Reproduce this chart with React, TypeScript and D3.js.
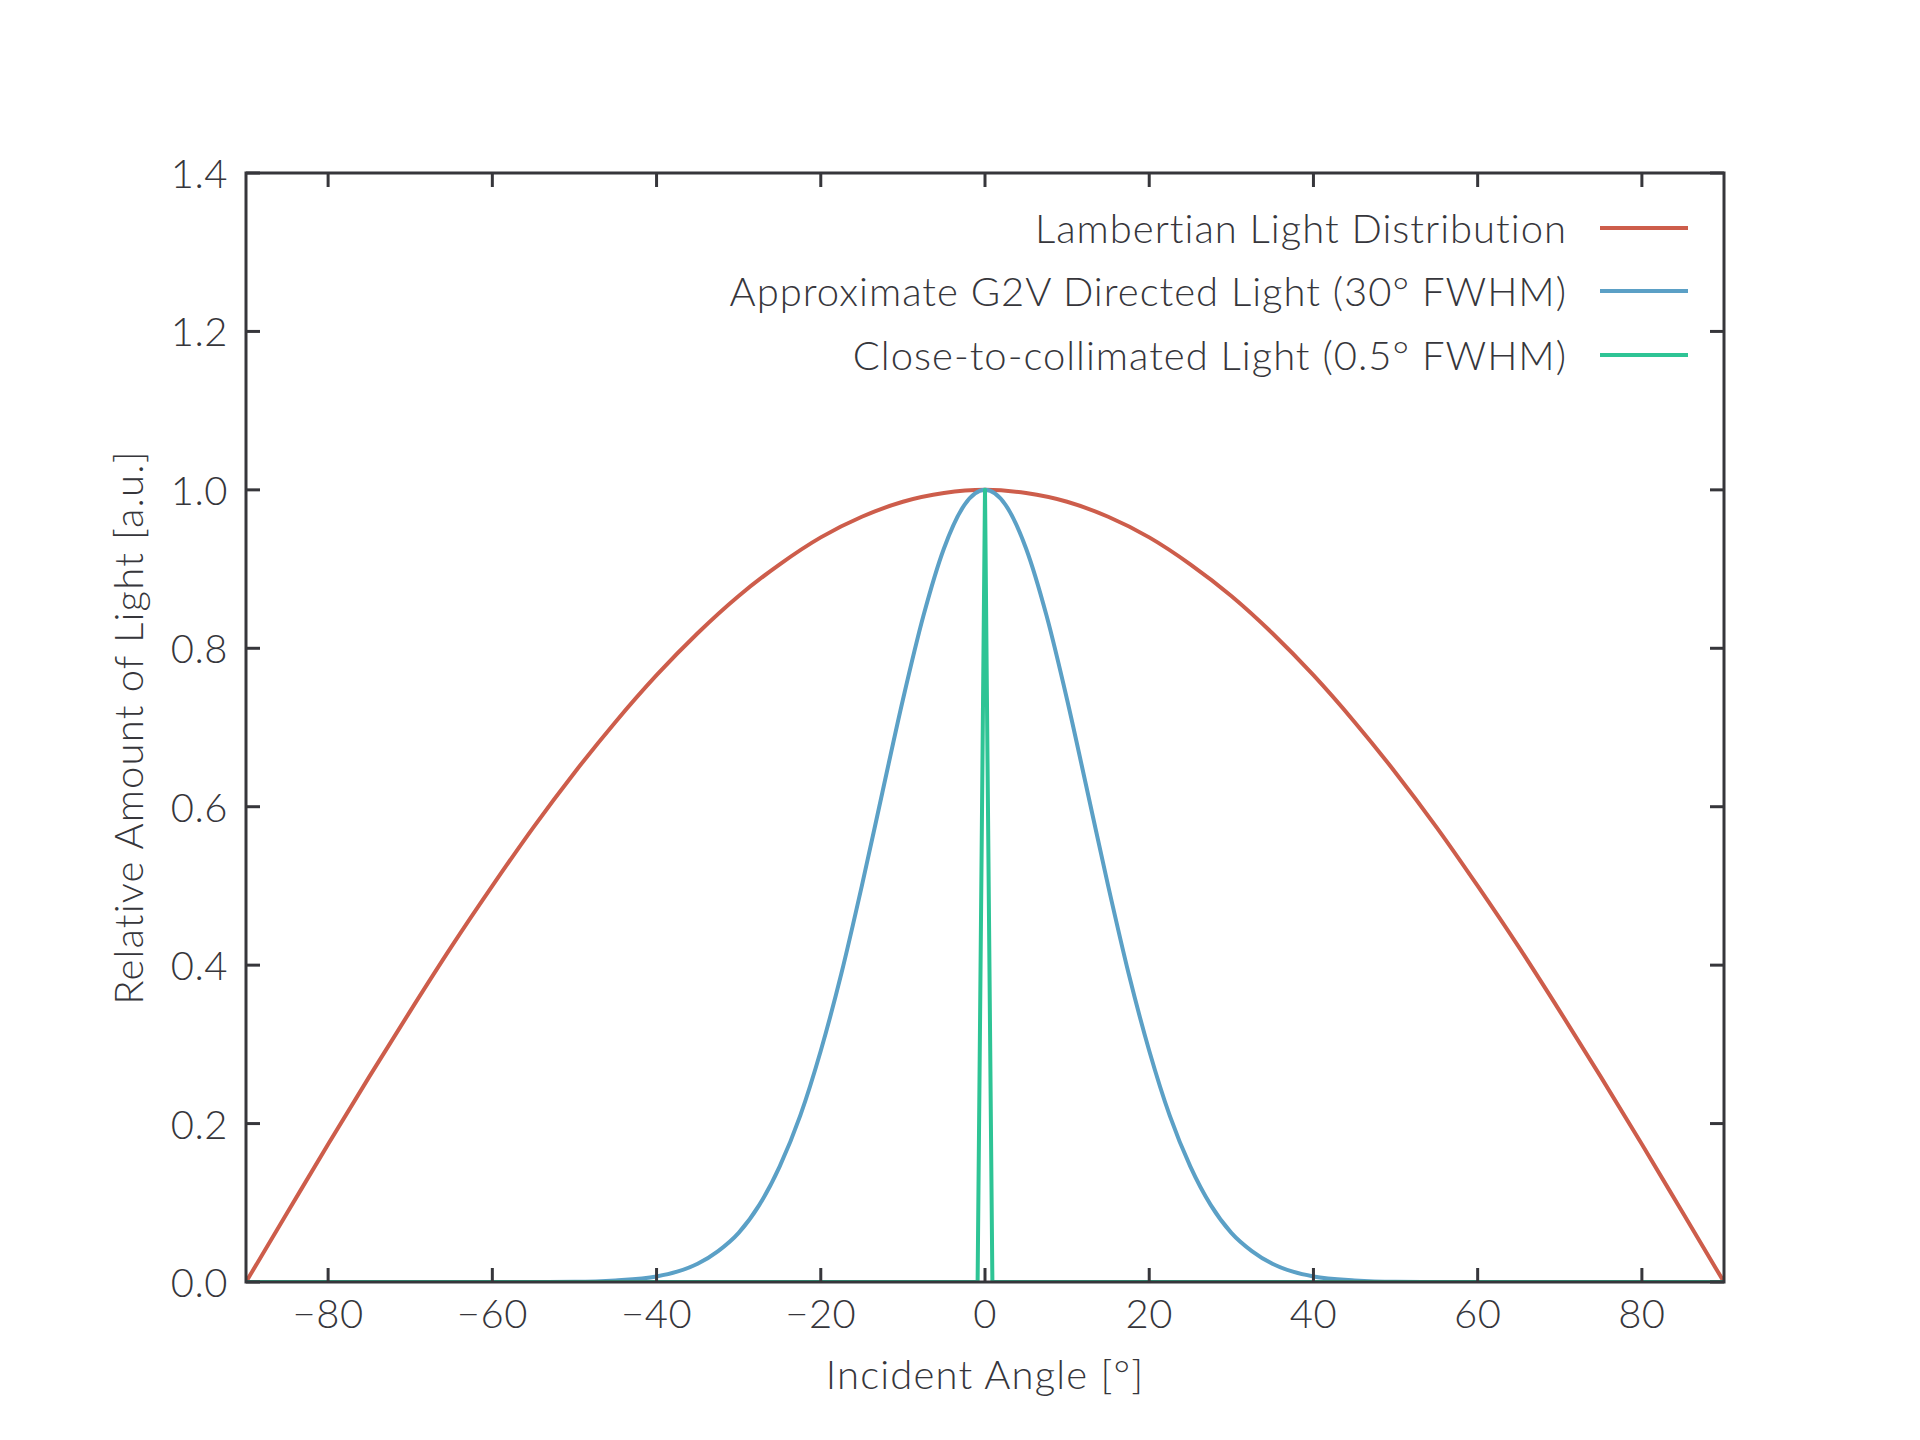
import React, { useMemo } from "react";
import * as d3 from "d3";

// Incident angles (deg) and values
const lambertAngles = [-90, -85, -80, -75, -70, -65, -60, -55, -50, -45, -40, -35, -30, -25, -20, -15, -10, -5, 0, 5, 10, 15, 20, 25, 30, 35, 40, 45, 50, 55, 60, 65, 70, 75, 80, 85, 90];
const lambertValues = [0, 0.087, 0.174, 0.259, 0.342, 0.423, 0.5, 0.574, 0.643, 0.707, 0.766, 0.819, 0.866, 0.906, 0.94, 0.966, 0.985, 0.996, 1, 0.996, 0.985, 0.966, 0.94, 0.906, 0.866, 0.819, 0.766, 0.707, 0.643, 0.574, 0.5, 0.423, 0.342, 0.259, 0.174, 0.087, 0];

const g2vAngles = [-90, -60, -50, -45, -40, -37.5, -35, -32.5, -30, -27.5, -25, -22.5, -20, -17.5, -15, -12.5, -10, -7.5, -5, -2.5, 0, 2.5, 5, 7.5, 10, 12.5, 15, 17.5, 20, 22.5, 25, 27.5, 30, 32.5, 35, 37.5, 40, 45, 50, 60, 90];
const g2vValues = [0, 0, 0.0003, 0.002, 0.007, 0.013, 0.023, 0.039, 0.062, 0.097, 0.146, 0.21, 0.292, 0.389, 0.5, 0.618, 0.735, 0.841, 0.926, 0.981, 1, 0.981, 0.926, 0.841, 0.735, 0.618, 0.5, 0.389, 0.292, 0.21, 0.146, 0.097, 0.062, 0.039, 0.023, 0.013, 0.007, 0.002, 0.0003, 0, 0];

const collimatedAngles = [-90, -0.9, 0, 0.9, 90];
const collimatedValues = [0, 0, 1, 0, 0];

const seriesLabels = [
  "Lambertian Light Distribution",
  "Approximate G2V Directed Light (30° FWHM)",
  "Close-to-collimated Light (0.5° FWHM)",
];
const seriesColors = ["#cd5d4b", "#5ba0c6", "#2ec495"];

const xTicks = [-80, -60, -40, -20, 0, 20, 40, 60, 80];
const yTicks = [0, 0.2, 0.4, 0.6, 0.8, 1.0, 1.2, 1.4];

const W = 1920;
const H = 1440;
const margin = { top: 173, right: 196, bottom: 158, left: 246 };
const axisColor = "#36363b";
const font = "Lato, 'Open Sans', sans-serif";

export default function App() {
  const innerW = W - margin.left - margin.right;
  const innerH = H - margin.top - margin.bottom;

  const x = d3.scaleLinear().domain([-90, 90]).range([margin.left, margin.left + innerW]);
  const y = d3.scaleLinear().domain([0, 1.4]).range([margin.top + innerH, margin.top]);

  const paths = useMemo(() => {
    const smooth = d3.line<[number, number]>()
      .x(d => x(d[0]))
      .y(d => y(d[1]))
      .curve(d3.curveMonotoneX);
    const straight = d3.line<[number, number]>()
      .x(d => x(d[0]))
      .y(d => y(d[1]));
    const zip = (a: number[], b: number[]) => a.map((v, i) => [v, b[i]] as [number, number]);
    return [
      smooth(zip(lambertAngles, lambertValues)) || "",
      smooth(zip(g2vAngles, g2vValues)) || "",
      straight(zip(collimatedAngles, collimatedValues)) || "",
    ];
  }, []);

  const x0 = margin.left;
  const x1 = margin.left + innerW;
  const y0 = margin.top + innerH;
  const y1 = margin.top;
  const tickLen = 14;

  const legendRows = [228, 291, 355];

  return (
    <svg
      width={W}
      height={H}
      style={{ position: "absolute", left: 0, top: 0, background: "#fff" }}
      fontFamily={font}
      fontWeight={300}
    >
      <rect x={0} y={0} width={W} height={H} fill="#ffffff" />

      <defs>
        <clipPath id="plot-clip">
          <rect x={x0} y={y1 - 4} width={innerW} height={innerH + 4} />
        </clipPath>
      </defs>

      {/* series */}
      <g clipPath="url(#plot-clip)">
        {paths.map((d, i) => (
          <path
            key={i}
            d={d}
            fill="none"
            stroke={seriesColors[i]}
            strokeWidth={4}
            strokeLinejoin="round"
          />
        ))}
      </g>

      {/* ticks, all four sides pointing inward */}
      <g stroke={axisColor} strokeWidth={3}>
        {xTicks.map(t => (
          <g key={"xt" + t}>
            <line x1={x(t)} x2={x(t)} y1={y0} y2={y0 - tickLen} />
            <line x1={x(t)} x2={x(t)} y1={y1} y2={y1 + tickLen} />
          </g>
        ))}
        {yTicks.map(t => (
          <g key={"yt" + t}>
            <line x1={x0} x2={x0 + tickLen} y1={y(t)} y2={y(t)} />
            <line x1={x1} x2={x1 - tickLen} y1={y(t)} y2={y(t)} />
          </g>
        ))}
      </g>

      {/* frame */}
      <rect x={x0} y={y1} width={innerW} height={innerH} fill="none" stroke={axisColor} strokeWidth={3} />

      {/* tick labels */}
      <g fill={axisColor} fontSize={40} letterSpacing={0.5}>
        {xTicks.map(t => (
          <text key={"xl" + t} x={x(t)} y={1313} textAnchor="middle" dominantBaseline="central">
            {t < 0 ? "\u2212" + Math.abs(t) : String(t)}
          </text>
        ))}
        {yTicks.map(t => (
          <text key={"yl" + t} x={x0 - 18} y={y(t)} textAnchor="end" dominantBaseline="central">
            {t.toFixed(1)}
          </text>
        ))}
      </g>

      {/* axis titles */}
      <text x={(x0 + x1) / 2} y={1374} textAnchor="middle" dominantBaseline="central" fontSize={40} fill={axisColor} letterSpacing={1.2}>
        Incident Angle [°]
      </text>
      <text
        transform={`translate(128, ${(y0 + y1) / 2}) rotate(-90)`}
        textAnchor="middle"
        dominantBaseline="central"
        fontSize={40}
        fill={axisColor}
        letterSpacing={1.2}
      >
        Relative Amount of Light [a.u.]
      </text>

      {/* legend */}
      <g fontSize={40} fill={axisColor} letterSpacing={1}>
        {seriesLabels.map((label, i) => (
          <g key={label}>
            <text x={1567} y={legendRows[i]} textAnchor="end" dominantBaseline="central">
              {label}
            </text>
            <line x1={1600} x2={1688} y1={legendRows[i]} y2={legendRows[i]} stroke={seriesColors[i]} strokeWidth={4} />
          </g>
        ))}
      </g>
    </svg>
  );
}
